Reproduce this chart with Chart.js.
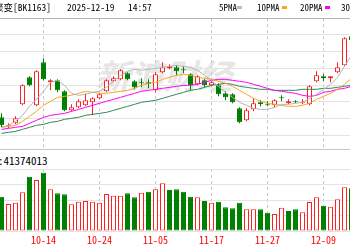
<!DOCTYPE html>
<html>
<head>
<meta charset="utf-8">
<script src="https://cdn.jsdelivr.net/npm/chart.js@4/dist/chart.umd.min.js"></script>
<style>
  html, body { margin: 0; padding: 0; background: #fff; }
  #wrap { position: relative; width: 350px; height: 250px; overflow: hidden; background: #fff; }
  canvas { position: absolute; }
  .t { position: absolute; white-space: pre; line-height: 1; color: #000;
       font-family: "Noto Sans Mono CJK SC", "DejaVu Sans Mono", monospace; }
  .dash { position: absolute; width: 5px; height: 3px; top: 6px; }
</style>
</head>
<body>
<div id="wrap">
  <div class="t" style="left:96px;top:58px;font-size:34px;font-style:italic;font-weight:bold;color:#e6e6e6;font-family:'Noto Sans CJK SC'">新浪财经</div>
  <canvas id="price" width="392" height="160" style="left:-32px;top:0"></canvas>
  <canvas id="vol" width="392" height="90" style="left:-32px;top:160px"></canvas>

  <div style="position:absolute;left:0;top:18px;width:350px;height:1px;background:#b4b4b4"></div>
  <div class="t" style="right:299px;top:3px;font-size:9.5px">可控核聚变[BK1163]</div>
  <div class="t" style="left:67px;top:3px;font-size:9.5px">2025-12-19</div>
  <div class="t" style="left:128px;top:3px;font-size:9.5px">14:57</div>

  <div class="t" style="left:219px;top:3px;font-size:9px">5PMA</div>
  <div class="dash" style="left:237px;background:#bdbdbd"></div>
  <div class="t" style="left:257px;top:3px;font-size:9px">10PMA</div>
  <div class="dash" style="left:282px;background:#f5a623"></div>
  <div class="t" style="left:300px;top:3px;font-size:9px">20PMA</div>
  <div class="dash" style="left:325px;background:#ff00ff"></div>
  <div class="t" style="left:341px;top:3px;font-size:9px">30PMA</div>

  <div style="position:absolute;left:0;top:149px;width:350px;height:20px;background:#fff;border-top:1px solid #c8c8c8;box-sizing:border-box"></div>
  <div class="t" style="left:-35px;top:155px;font-size:11px">成交量:41374013</div>
</div>

<script>
const dates = ['09-24', '09-25', '09-26', '09-29', '09-30', '10-09', '10-10', '10-13',
  '10-14', '10-15', '10-16', '10-17', '10-20', '10-21', '10-22', '10-23',
  '10-24', '10-27', '10-28', '10-29', '10-30', '10-31', '11-03', '11-04',
  '11-05', '11-06', '11-07', '11-10', '11-11', '11-12', '11-13', '11-14',
  '11-17', '11-18', '11-19', '11-20', '11-21', '11-24', '11-25', '11-26',
  '11-27', '11-28', '12-01', '12-02', '12-03', '12-04', '12-05', '12-08',
  '12-09', '12-10', '12-11', '12-12', '12-15'];

// daily candles (first two days fall outside the frame)
const open = [null, null, 1103, 1076, 1085, 1142, 1223, 1139, 1268, 1208, 1214, 1181,
  1124, 1133, 1139, 1148, 1160, 1181, 1211, 1217, 1235, 1211, 1208, 1208, 1184,
  1238, 1250, 1253, 1247, 1232, 1202, 1214, 1199, 1199, 1175, 1172, 1130, 1094,
  1127, 1148, 1142, 1139, 1163, 1145, 1151, 1145, 1142, 1211, 1226, 1220, 1238,
  1259, 1346];
const close = [null, null, 1079, 1079, 1100, 1199, 1199, 1241, 1217, 1214, 1184, 1124,
  1133, 1151, 1154, 1160, 1172, 1214, 1220, 1244, 1217, 1193, 1205, 1202, 1232,
  1253, 1256, 1241, 1244, 1199, 1226, 1199, 1208, 1172, 1163, 1148, 1088, 1124,
  1145, 1142, 1139, 1154, 1160, 1151, 1148, 1148, 1196, 1229, 1220, 1226, 1253,
  1340, 1334];
const high = [null, null, 1115, 1085, 1106, 1202, 1226, 1244, 1280, 1217, 1217, 1184,
  1142, 1157, 1175, 1163, 1175, 1217, 1226, 1247, 1238, 1214, 1220, 1217, 1238,
  1268, 1262, 1259, 1256, 1235, 1229, 1217, 1211, 1205, 1181, 1175, 1133, 1130,
  1160, 1154, 1151, 1157, 1169, 1157, 1154, 1157, 1199, 1241, 1232, 1226, 1268,
  1343, 1355];
const low = [null, null, 1073, 1070, 1082, 1139, 1196, 1136, 1214, 1184, 1178, 1121,
  1121, 1130, 1136, 1109, 1157, 1178, 1208, 1214, 1214, 1187, 1193, 1190, 1178,
  1235, 1247, 1229, 1235, 1184, 1199, 1193, 1196, 1166, 1154, 1145, 1085, 1091,
  1121, 1136, 1136, 1133, 1151, 1142, 1145, 1142, 1139, 1208, 1211, 1208, 1235,
  1256, 1331];

// moving averages
const ma5 = [null, null, 1073, 1079, 1091, 1109, 1136, 1157, 1181, 1208, 1214, 1199,
  1175, 1169, 1172, 1178, 1181, 1193, 1211, 1229, 1241, 1247, 1244, 1247, 1250,
  1253, 1256, 1259, 1256, 1253, 1244, 1229, 1214, 1196, 1178, 1163, 1148, 1139,
  1130, 1127, 1127, 1133, 1142, 1142, 1145, 1148, 1160, 1172, 1187, 1202, 1223,
  1256, 1289];
const ma10 = [null, null, 1073, 1076, 1079, 1091, 1106, 1121, 1139, 1151, 1163, 1166,
  1169, 1175, 1181, 1178, 1175, 1175, 1178, 1181, 1184, 1190, 1199, 1205, 1208,
  1217, 1223, 1229, 1232, 1229, 1223, 1220, 1217, 1211, 1205, 1196, 1184, 1172,
  1160, 1151, 1145, 1142, 1139, 1136, 1136, 1139, 1145, 1157, 1166, 1175, 1187,
  1202, 1220];
const ma20 = [null, null, 1067, 1070, 1073, 1076, 1085, 1094, 1103, 1109, 1112, 1115,
  1121, 1127, 1133, 1139, 1145, 1151, 1157, 1163, 1169, 1175, 1181, 1184, 1187,
  1190, 1193, 1196, 1199, 1199, 1202, 1208, 1214, 1217, 1217, 1214, 1211, 1208,
  1202, 1196, 1190, 1184, 1181, 1178, 1175, 1169, 1166, 1169, 1178, 1181, 1187,
  1190, 1196];
const ma30 = [null, null, 1055, 1058, 1061, 1067, 1073, 1079, 1082, 1088, 1091, 1097,
  1100, 1103, 1109, 1112, 1115, 1118, 1124, 1130, 1136, 1142, 1148, 1151, 1154,
  1160, 1166, 1172, 1178, 1184, 1187, 1193, 1199, 1202, 1205, 1202, 1196, 1193,
  1190, 1187, 1187, 1184, 1184, 1184, 1184, 1187, 1187, 1187, 1190, 1190, 1193,
  1196, 1199];

// volume and whether the day closed up (1) or down (0)
const volume = [null, null, 2210, 1740, 1825, 2500, 3500, 3290, 3760, 2690, 2430, 2370,
  1720, 1890, 1935, 1890, 1825, 2390, 2280, 2280, 2430, 2170, 2470, 2535, 2690,
  3080, 2645, 2690, 2535, 2210, 2170, 1935, 1825, 1890, 1530, 1465, 1825, 1400,
  1400, 1400, 1180, 1100, 1500, 1290, 1400, 1205, 1870, 2175, 1630, 1565, 2045,
  2820, 2755];
const volRise = [null, null, 0, 1, 1, 1, 0, 1, 0, 1, 0, 0, 1, 1, 1, 1, 1, 1, 1, 1, 0, 0,
  1, 0, 1, 1, 0, 0, 0, 0, 1, 0, 1, 0, 0, 0, 0, 1, 1, 0, 0, 1, 1, 0, 0, 1, 1, 1, 0,
  1, 1, 1, 0];

const RED = '#ff2020';
const GREEN = '#008000';
const MONO = '"Noto Sans Mono CJK SC", "DejaVu Sans Mono", monospace';

const up = open.map((o, k) => o !== null && close[k] >= o);
const bodies = open.map((o, k) => (o === null ? null : [o, close[k]]));
const wicks = low.map((l, k) => (l === null ? null : [l, high[k]]));

const xGrid = {
  offset: false,
  drawTicks: false,
  color: (c) => (c.index % 8 === 0 ? '#c4c4c4' : 'rgba(0,0,0,0)'),
};

function maLine(data, color) {
  return {
    type: 'line', data: data, borderColor: color, borderWidth: 1,
    pointRadius: 0, tension: 0, order: 0,
  };
}

new Chart(document.getElementById('price'), {
  type: 'bar',
  data: {
    labels: dates,
    datasets: [
      maLine(ma5, '#b4b4b4'),
      maLine(ma10, '#f5a623'),
      maLine(ma20, '#ff00ff'),
      maLine(ma30, '#2e8b57'),
      {
        data: bodies,
        backgroundColor: up.map((u) => (u ? '#fff' : GREEN)),
        borderColor: up.map((u) => (u ? RED : GREEN)),
        borderWidth: 1,
        borderSkipped: false,
        barThickness: 5,
        grouped: false,
        inflateAmount: 0,
        order: 1,
      },
      {
        data: wicks,
        backgroundColor: up.map((u) => (u ? RED : GREEN)),
        borderWidth: 0,
        barThickness: 1,
        grouped: false,
        inflateAmount: 0,
        order: 2,
      },
    ],
  },
  options: {
    responsive: false,
    animation: false,
    devicePixelRatio: 1,
    layout: { padding: { left: 16, right: 5, top: 18.3, bottom: 8.3 } },
    plugins: { legend: { display: false }, tooltip: { enabled: false } },
    scales: {
      x: {
        offset: true,
        grid: xGrid,
        border: { display: false, dash: [3, 3] },
        ticks: { display: false },
        afterFit: (s) => { s.height = 0; },
      },
      y: {
        min: 1000,
        max: 1400,
        ticks: { display: false, stepSize: 50 },
        grid: { drawTicks: false, color: '#e4e4e4' },
        border: { display: false },
        afterFit: (s) => { s.width = 0; },
      },
    },
  },
});

new Chart(document.getElementById('vol'), {
  type: 'bar',
  data: {
    labels: dates,
    datasets: [{
      data: volume,
      backgroundColor: volRise.map((r) => (r ? '#fff' : GREEN)),
      borderColor: volRise.map((r) => (r ? RED : GREEN)),
      borderWidth: 1,
      borderSkipped: false,
      barThickness: 5,
      inflateAmount: 0,
    }],
  },
  options: {
    responsive: false,
    animation: false,
    devicePixelRatio: 1,
    layout: { padding: { left: 16, right: 5, top: 9, bottom: 4 } },
    plugins: { legend: { display: false }, tooltip: { enabled: false } },
    scales: {
      x: {
        offset: true,
        grid: xGrid,
        border: { display: false, dash: [3, 3] },
        ticks: {
          autoSkip: false,
          maxRotation: 0,
          padding: 3,
          color: '#ff0000',
          font: { family: MONO, size: 10 },
          callback: (v, k) => (k % 8 === 0 ? dates[k] : ''),
        },
        afterFit: (s) => { s.height = 15; },
      },
      y: {
        min: 0,
        max: 4000,
        ticks: { display: false, stepSize: 1000 },
        grid: { drawTicks: false, color: '#e4e4e4' },
        border: { display: false },
        afterFit: (s) => { s.width = 0; },
      },
    },
  },
});
</script>
</body>
</html>
